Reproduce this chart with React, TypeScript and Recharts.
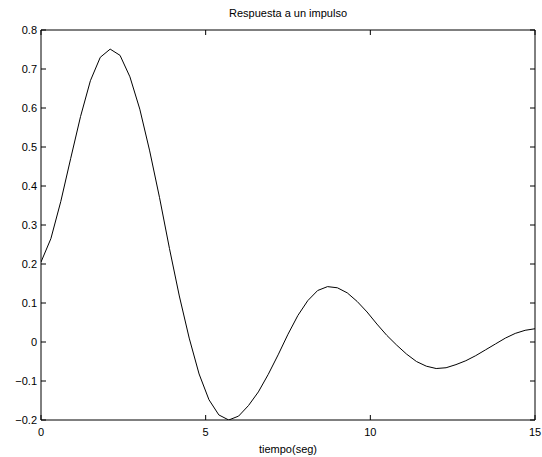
import React from "react";
import { LineChart, Line, XAxis, YAxis, Label } from "recharts";

// Impulse response samples (time step 0.3 s)
const tiempo = [
  0, 0.3, 0.6, 0.9, 1.2, 1.5, 1.8, 2.1, 2.4, 2.7, 3.0, 3.3, 3.6, 3.9, 4.2, 4.5, 4.8,
  5.1, 5.4, 5.7, 6.0, 6.3, 6.6, 6.9, 7.2, 7.5, 7.8, 8.1, 8.4, 8.7, 9.0, 9.3, 9.6,
  9.9, 10.2, 10.5, 10.8, 11.1, 11.4, 11.7, 12.0, 12.3, 12.6, 12.9, 13.2, 13.5,
  13.8, 14.1, 14.4, 14.7, 15.0,
];

const respuesta = [
  0.205, 0.265, 0.36, 0.47, 0.578, 0.67, 0.73, 0.751, 0.735, 0.68, 0.597, 0.49,
  0.37, 0.24, 0.118, 0.01, -0.082, -0.148, -0.187, -0.2, -0.19, -0.163, -0.128,
  -0.083, -0.033, 0.02, 0.068, 0.106, 0.132, 0.142, 0.139, 0.126, 0.104, 0.077,
  0.046, 0.017, -0.008, -0.031, -0.05, -0.062, -0.068, -0.066, -0.058, -0.048,
  -0.035, -0.02, -0.005, 0.01, 0.022, 0.03, 0.034,
];

const xTicks = [0, 5, 10, 15];
const yTicks = [-0.2, -0.1, 0, 0.1, 0.2, 0.3, 0.4, 0.5, 0.6, 0.7, 0.8];

const titulo = "Respuesta a un impulso";
const etiquetaX = "tiempo(seg)";

const data = tiempo.map((t, i) => ({ t, y: respuesta[i] }));

const FONT = '"Liberation Sans", Arial, Helvetica, sans-serif';
const TICK = 5;

const fmtY = (v: number) => {
  const r = Math.round(v * 10) / 10;
  if (r === 0) return "0";
  const s = Math.abs(r).toString();
  return r < 0 ? "\u2212" + s : s;
};

const BottomTick = (props: any) => {
  const { x, y, payload } = props;
  return (
    <g>
      <line x1={x} x2={x} y1={y} y2={y - TICK} stroke="#000" strokeWidth={1} />
      <text x={x} y={y + 8} dy="0.71em" textAnchor="middle" fontSize={11} fontFamily={FONT} fill="#000">
        {payload.value}
      </text>
    </g>
  );
};

const TopTick = (props: any) => {
  const { x, y } = props;
  return <line x1={x} x2={x} y1={y} y2={y + TICK} stroke="#000" strokeWidth={1} />;
};

const LeftTick = (props: any) => {
  const { x, y, payload } = props;
  return (
    <g>
      <line x1={x} x2={x + TICK} y1={y} y2={y} stroke="#000" strokeWidth={1} />
      <text x={x - 4} y={y} dy="0.36em" textAnchor="end" fontSize={11} fontFamily={FONT} fill="#000">
        {fmtY(payload.value)}
      </text>
    </g>
  );
};

const RightTick = (props: any) => {
  const { x, y } = props;
  return <line x1={x} x2={x - TICK} y1={y} y2={y} stroke="#000" strokeWidth={1} />;
};

export default function App() {
  return (
    <div style={{ position: "absolute", left: 0, top: 0, background: "#fff" }}>
      <LineChart
        width={542}
        height={457}
        data={data}
        margin={{ top: 29, right: 6, bottom: 0, left: 0 }}
      >
        <XAxis
          dataKey="t"
          type="number"
          domain={[0, 15]}
          ticks={xTicks}
          interval={0}
          allowDataOverflow
          height={37}
          tickSize={0}
          tickMargin={0}
          tickLine={false}
          axisLine={{ stroke: "#000", strokeWidth: 1 }}
          tick={<BottomTick />}
        >
          <Label
            value={etiquetaX}
            position="insideBottom"
            offset={4}
            fontSize={11}
            fontFamily={FONT}
            fill="#000"
          />
        </XAxis>
        <XAxis
          xAxisId="top"
          orientation="top"
          dataKey="t"
          type="number"
          domain={[0, 15]}
          ticks={xTicks}
          interval={0}
          allowDataOverflow
          height={1}
          tickSize={0}
          tickMargin={0}
          tickLine={false}
          axisLine={{ stroke: "#000", strokeWidth: 1 }}
          tick={<TopTick />}
        >
          <Label
            value={titulo}
            position="top"
            offset={12}
            fontSize={11}
            fontFamily={FONT}
            fill="#000"
          />
        </XAxis>
        <YAxis
          type="number"
          domain={[-0.2, 0.8]}
          ticks={yTicks}
          interval={0}
          allowDataOverflow
          width={41}
          tickSize={0}
          tickMargin={0}
          tickLine={false}
          axisLine={{ stroke: "#000", strokeWidth: 1 }}
          tick={<LeftTick />}
        />
        <YAxis
          yAxisId="right"
          orientation="right"
          type="number"
          domain={[-0.2, 0.8]}
          ticks={yTicks}
          interval={0}
          allowDataOverflow
          width={1}
          tickSize={0}
          tickMargin={0}
          tickLine={false}
          axisLine={{ stroke: "#000", strokeWidth: 1 }}
          tick={<RightTick />}
        />
        {/* same series bound to the top/right frame axes so they get drawn; invisible */}
        <Line
          xAxisId="top"
          yAxisId="right"
          type="linear"
          dataKey="y"
          stroke="none"
          dot={false}
          activeDot={false}
          legendType="none"
          isAnimationActive={false}
        />
        <Line
          type="linear"
          dataKey="y"
          stroke="#000"
          strokeWidth={1}
          dot={false}
          activeDot={false}
          isAnimationActive={false}
        />
      </LineChart>
    </div>
  );
}
